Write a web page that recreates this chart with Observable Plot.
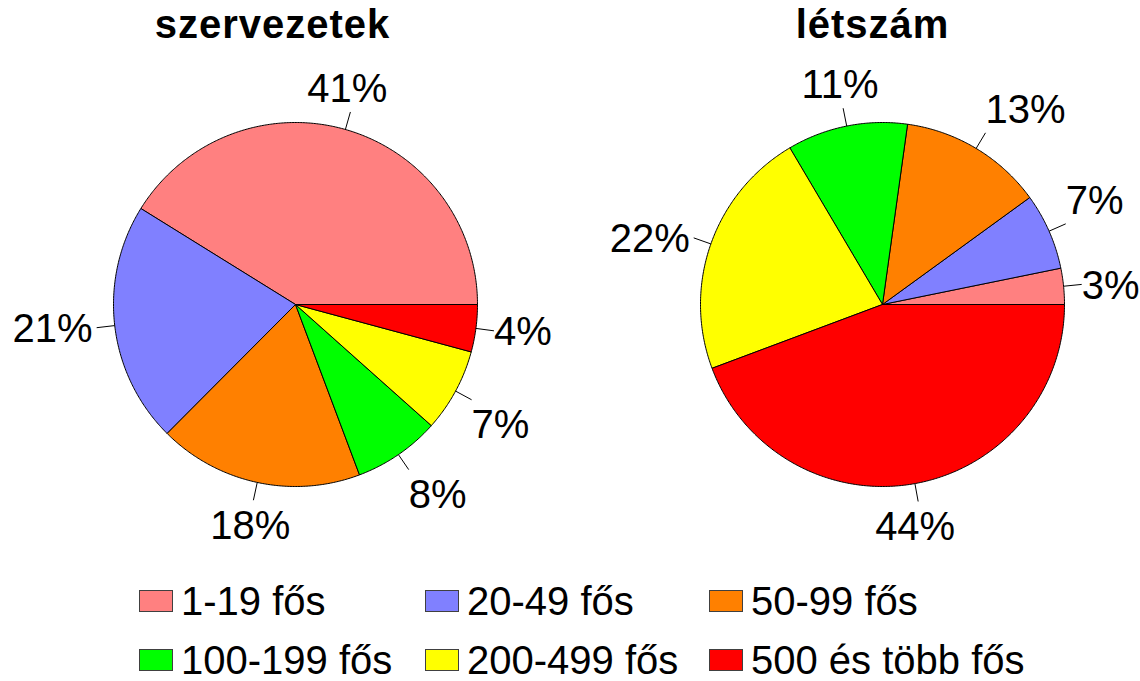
<!DOCTYPE html>
<html><head><meta charset="utf-8">
<script src="https://cdn.jsdelivr.net/npm/d3@7"></script>
<script src="https://cdn.jsdelivr.net/npm/@observablehq/plot@0.6"></script>
<style>
body{margin:0;background:#fff;font-family:"Liberation Sans",Arial,sans-serif;}
#wrap{position:relative;width:1140px;height:681px;overflow:hidden;background:#fff;}
#legend{position:absolute;left:139px;top:571px;display:grid;grid-template-columns:286px 284px 320px;grid-auto-rows:59px;}
.item{display:flex;align-items:center;font-size:40px;line-height:1;color:#000;white-space:nowrap;}
.sw{width:32px;height:20px;border:1px solid #404040;margin-right:8px;flex:none;}
</style></head><body><div id="wrap"></div>
<script>
// ---- data ----
const categories = ["1-19 fős","20-49 fős","50-99 fős","100-199 fős","200-499 fős","500 és több fős"];
const colors = ["#FF8080","#8080FF","#FF8000","#00FF00","#FFFF00","#FF0000"];
const pieTitles = ["szervezetek","létszám"];
const szervezetek = [41.2,21.4,18.2,7.7,7.4,4.2];
const letszam = [3.2,6.8,12.8,10.7,22.2,44.3];

// ---- layout ----
const W = 1140, H = 570, RPX = 182, CXPX = [295, 882], CYPX = 304;
const titleDx = [-23, -10];
const pieCx = CXPX.map(c => (c - CXPX[0]) / RPX); // in radius units
const series = [szervezetek, letszam];

const polys = [], leaders = [], labels = [];
series.forEach((vals, p) => {
  const total = d3.sum(vals);
  let cum = 0;
  vals.forEach((v, i) => {
    const t0 = 2 * Math.PI * cum / total;
    cum += v;
    const t1 = 2 * Math.PI * cum / total;
    const id = p + "-" + i;
    const n = Math.max(2, Math.ceil((t1 - t0) / (Math.PI / 360)));
    polys.push({id, cat: categories[i], x: pieCx[p], y: 0});
    for (let k = 0; k <= n; k++) {
      const t = t0 + (t1 - t0) * k / n;
      polys.push({id, cat: categories[i], x: pieCx[p] + Math.cos(t), y: Math.sin(t)});
    }
    polys.push({id, cat: categories[i], x: pieCx[p], y: 0});
    const tm = (t0 + t1) / 2, c = Math.cos(tm), s = Math.sin(tm);
    leaders.push({x1: pieCx[p] + c, y1: s, x2: pieCx[p] + 1.1 * c, y2: 1.1 * s});
    let la, ta;
    if (Math.abs(s) < 0.37) { la = "middle"; ta = c > 0 ? "start" : "end"; }
    else {
      la = s > 0 ? "bottom" : "top";
      ta = Math.abs(c) < 0.4 ? "middle" : (c > 0 ? "start" : "end");
    }
    labels.push({x: pieCx[p] + 1.1 * c, y: 1.1 * s, text: Math.round(v) + "%", la, ta});
  });
});

const font = "Liberation Sans, Arial, sans-serif";
const dxBy = {start: 0, middle: -3, end: -4};
const dyBy = {top: 10, bottom: -10, middle: 1.5};
const labelMarks = [];
for (const ta of ["start","middle","end"]) for (const la of ["top","middle","bottom"]) {
  const d = labels.filter(l => l.ta === ta && l.la === la);
  if (d.length) labelMarks.push(Plot.text(d, {x: "x", y: "y", text: "text", textAnchor: ta, lineAnchor: la,
    dx: dxBy[ta], dy: dyBy[la], fontSize: 40, fontFamily: font, fill: "black"}));
}

const plot = Plot.plot({
  width: W, height: H,
  marginTop: 0, marginRight: 0, marginBottom: 0, marginLeft: 0,
  x: {domain: [-CXPX[0] / RPX, (W - CXPX[0]) / RPX], axis: null},
  y: {domain: [-(H - CYPX) / RPX, CYPX / RPX], axis: null},
  color: {domain: categories, range: colors},
  style: {fontFamily: font, background: "white", overflow: "visible"},
  marks: [
    Plot.line(polys, {x: "x", y: "y", z: "id", fill: "cat", stroke: "black", strokeWidth: 1, curve: "linear", strokeLinejoin: "round"}),
    Plot.link(leaders, {x1: "x1", y1: "y1", x2: "x2", y2: "y2", stroke: "black", strokeWidth: 1}),
    ...labelMarks,
    ...pieTitles.map((t, p) => Plot.text([t], {x: () => pieCx[p], text: d => d, frameAnchor: "top", lineAnchor: "top",
      dy: 9.5, dx: titleDx[p], fontSize: 40, fontWeight: "bold", fontFamily: font, fill: "black"}))
  ]
});
plot.querySelectorAll('[font-weight="bold"]').forEach(g => g.setAttribute("letter-spacing", "1"));

const wrap = document.getElementById("wrap");
wrap.appendChild(plot);
const legend = document.createElement("div");
legend.id = "legend";
categories.forEach((c, i) => {
  const item = document.createElement("div");
  item.className = "item";
  const sw = document.createElement("span");
  sw.className = "sw";
  sw.style.background = colors[i];
  item.appendChild(sw);
  item.appendChild(document.createTextNode(c));
  legend.appendChild(item);
});
wrap.appendChild(legend);
</script></body></html>
